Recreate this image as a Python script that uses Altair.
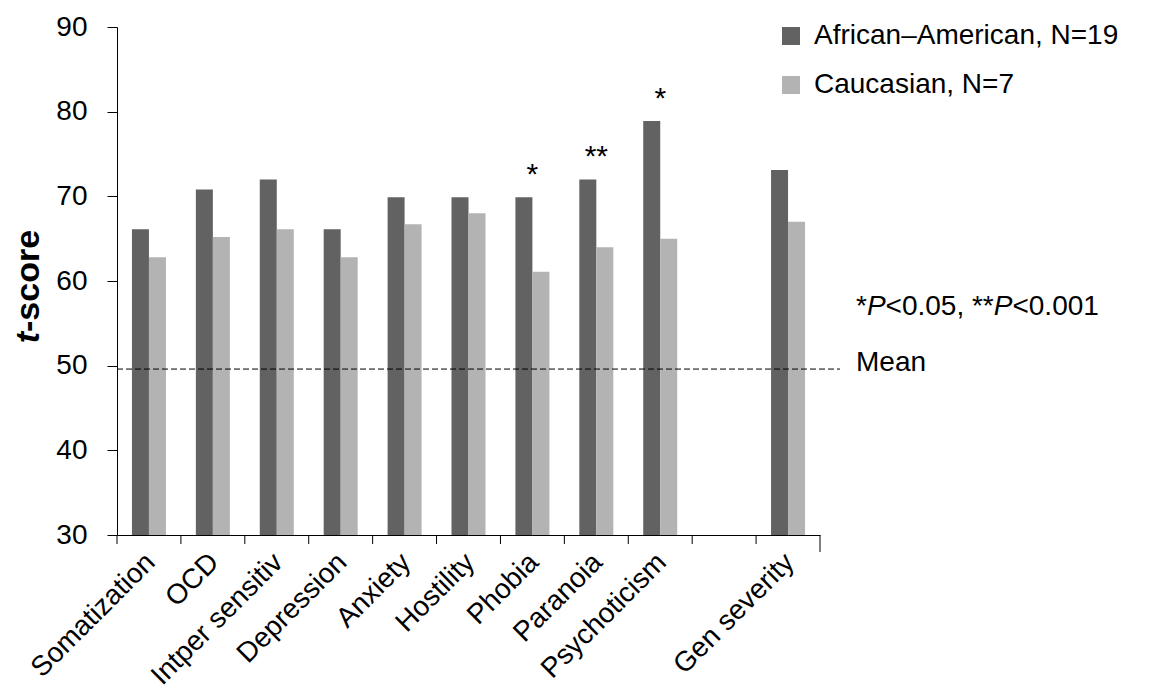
import altair as alt
import pandas as pd

# ---- data ----
categories = ["Somatization", "OCD", "Intper sensitiv", "Depression", "Anxiety",
              "Hostility", "Phobia", "Paranoia", "Psychoticism", "Gen severity"]
axis_domain = ["Somatization", "OCD", "Intper sensitiv", "Depression", "Anxiety",
               "Hostility", "Phobia", "Paranoia", "Psychoticism", " ", "Gen severity"]
groups = ["African\u2013American, N=19", "Caucasian, N=7"]
african_american = [66.1, 70.8, 72.0, 66.1, 69.9, 69.9, 69.9, 72.0, 78.9, 73.1]
caucasian = [62.8, 65.2, 66.1, 62.8, 66.7, 68.0, 61.1, 64.0, 65.0, 67.0]
sig_categories = ["Phobia", "Paranoia", "Psychoticism"]
sig_labels = ["*", "**", "*"]
mean_value = 49.6
y_ticks = [30, 40, 50, 60, 70, 80, 90]

colors = ["#626262", "#b3b3b3"]
FONT = "Liberation Sans"

rows = []
for c, a, b in zip(categories, african_american, caucasian):
    rows.append({"category": c, "group": groups[0], "value": a})
    rows.append({"category": c, "group": groups[1], "value": b})
df = pd.DataFrame(rows)

aa_lookup = dict(zip(categories, african_american))
sig_df = pd.DataFrame({"category": sig_categories, "label": sig_labels,
                       "value": [aa_lookup[c] for c in sig_categories]})
tick_df = pd.DataFrame({"category": axis_domain})

W, H = 703, 508

x_scale = alt.Scale(domain=axis_domain, paddingInner=0, paddingOuter=0)
y_scale = alt.Scale(domain=[30, 90], zero=False, nice=False)

x_axis = alt.Axis(title=None, labelAngle=-45, labelAlign="right",
                  labelBaseline="top", labelFontSize=28, labelFont=FONT,
                  labelColor="black", ticks=False, tickSize=0,
                  domainColor="black", labelPadding=13,
                  labelOffset=-8, grid=False, labelOverlap=False)
y_axis = alt.Axis(title=None, values=y_ticks, tickSize=10, labelFontSize=28,
                  labelFont=FONT, labelColor="black", labelPadding=20,
                  tickColor="black", domainColor="black", grid=False)

bars = alt.Chart(df).mark_bar().encode(
    x=alt.X("category:N", scale=x_scale, sort=axis_domain, axis=x_axis),
    xOffset=alt.XOffset("group:N", scale=alt.Scale(domain=groups, paddingInner=0, paddingOuter=0.88)),
    y=alt.Y("value:Q", scale=y_scale, axis=y_axis),
    y2=alt.datum(30),
    color=alt.Color("group:N", scale=alt.Scale(domain=groups, range=colors),
                    legend=alt.Legend(title=None, orient="none", legendX=660, legendY=-5,
                                      symbolType="square", symbolSize=324,
                                      symbolStrokeWidth=0, labelFontSize=28,
                                      labelFont=FONT, labelColor="black", labelLimit=0,
                                      rowPadding=21, padding=0, labelOffset=9)),
)

# category boundary ticks below the x axis
x_ticks = alt.Chart(tick_df).mark_rule(color="black", strokeWidth=1).encode(
    x=alt.X("category:N", sort=axis_domain, scale=x_scale, axis=x_axis, bandPosition=0),
    y=alt.value(H), y2=alt.value(H + 9),
)
end_tick = alt.Chart(pd.DataFrame({"d": [0]})).mark_rule(color="black", strokeWidth=1).encode(
    x=alt.value(W), y=alt.value(H), y2=alt.value(H + 17),
)

stars = alt.Chart(sig_df).mark_text(fontSize=30, font=FONT, color="black",
                                    baseline="alphabetic", dy=-13).encode(
    x=alt.X("category:N", sort=axis_domain, scale=x_scale, axis=x_axis),
    y=alt.Y("value:Q", scale=y_scale, axis=y_axis),
    text="label:N",
)

mean_line = alt.Chart(pd.DataFrame({"m": [mean_value]})).mark_rule(
    color="black", strokeWidth=1, strokeDash=[6, 3]).encode(
    y=alt.Y("m:Q", scale=y_scale, axis=y_axis),
    x=alt.value(0), x2=alt.value(723),
)

# annotation texts
one = pd.DataFrame({"d": [0]})
FS = 28
px = 739
py = 280
widths = {"*": 0.389, "P": 0.667, "<0.05, **": 3.864}
pieces = [("*", "normal"), ("P", "italic"), ("<0.05, **", "normal"), ("P", "italic"), ("<0.001", "normal")]
ann_layers = []
xpos = px
for txt, style in pieces:
    ann_layers.append(
        alt.Chart(one).mark_text(text=txt, fontSize=FS, font=FONT, fontStyle=style,
                                 align="left", baseline="middle", color="black").encode(
            x=alt.value(xpos), y=alt.value(py)))
    w = widths.get(txt, 0)
    xpos += w * FS

mean_text = alt.Chart(one).mark_text(text="Mean", fontSize=FS, font=FONT, align="left",
                                     baseline="middle", color="black").encode(
    x=alt.value(739), y=alt.value(336))

title_t = alt.Chart(one).mark_text(text="t", fontSize=34, font=FONT, fontWeight="bold",
                                   fontStyle="italic", angle=270, align="right",
                                   baseline="middle", color="black").encode(
    x=alt.value(-88), y=alt.value(305))
title_rest = alt.Chart(one).mark_text(text="-score", fontSize=34, font=FONT, fontWeight="bold",
                                      angle=270, align="left", baseline="middle",
                                      color="black").encode(
    x=alt.value(-88), y=alt.value(305))

chart = alt.layer(bars, x_ticks, end_tick, stars, mean_line, *ann_layers, mean_text,
                  title_t, title_rest).properties(
    width=W, height=H,
    background="white",
    autosize=alt.AutoSizeParams(type="none"),
    padding={"left": 109, "top": 19, "right": 320, "bottom": 162},
).configure_view(stroke="transparent", strokeWidth=0).configure_axis(grid=False)

chart.save("out.html", embed_options={"renderer": "svg", "actions": False})
